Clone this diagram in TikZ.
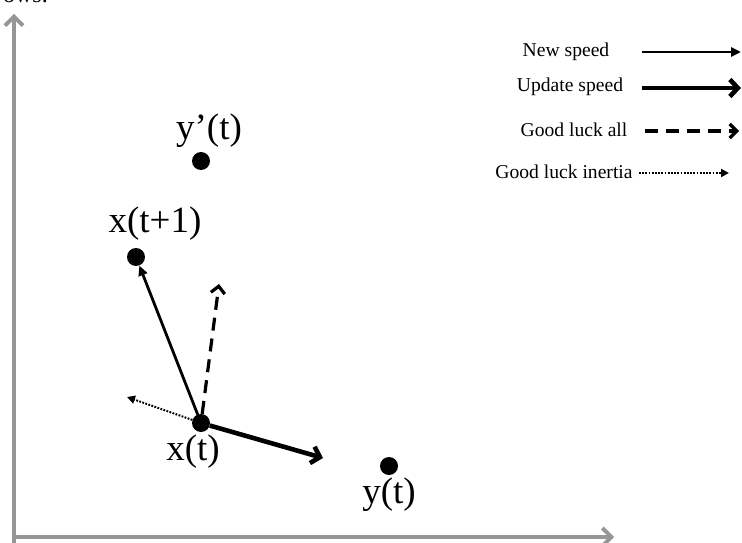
\documentclass[tikz,border=0pt]{standalone}
\usepackage{fontspec}
\setmainfont{Liberation Serif}
\usetikzlibrary{arrows.meta}
\definecolor{axisgray}{RGB}{150,150,150}
\begin{document}
\begin{tikzpicture}[x=1pt,y=-1pt,
  axis/.style={draw=axisgray, line width=3.8pt, -{Straight Barb[length=9pt,width=18pt]}},
  dot/.style={circle, fill=black, minimum size=18pt, inner sep=0pt},
  lbl/.style={font=\fontsize{37}{39}\selectfont, inner sep=0pt},
  leg/.style={font=\fontsize{19.6}{22}\selectfont, inner sep=0pt},
  newspeed/.style={line width=2.8pt, -{Triangle[length=10pt,width=9pt]}},
  updatespeed/.style={line width=4.6pt, -{Straight Barb[length=8pt,width=17pt]}},
  goodall/.style={line width=3.2pt, dash pattern=on 13pt off 8pt, -{Straight Barb[length=7pt,width=14pt]}},
  inertia/.style={line width=2pt, dash pattern=on 1.8pt off 1.4pt, -{Triangle[length=8pt,width=8pt]}}
]
\useasboundingbox (0,0) rectangle (742,543);

% cut-off caption text at top
\node[font=\fontsize{24}{26}\selectfont, inner sep=0pt, anchor=base east] (cap) at (48,3) {ows.};

% axes
\coordinate (ybot) at (14,545);
\coordinate (ytip) at (14,14);
\coordinate (xleft) at (12,537);
\coordinate (xtip) at (614,537);
\draw[axis] (ybot) -- (ytip);
\draw[axis] (xleft) -- (xtip);

% points
\node[dot] (yp) at (201,161) {};
\node[dot] (xt1) at (136,257) {};
\node[dot] (xt) at (201,423) {};
\node[dot] (yt) at (389,466) {};

% labels
\node[lbl] (lyp) at (209,131) {y’(t)};
\node[lbl] (lxt1) at (155,224) {x(t+1)};
\node[lbl] (lxt) at (193,452) {x(t)};
\node[lbl] (lyt) at (389,495) {y(t)};

% vectors
\coordinate (dtip) at (219,284);
\coordinate (itip) at (127,397);
\coordinate (utip) at (323,458);
\draw[newspeed] (xt.center) -- (xt1);
\draw[goodall] (xt) -- (dtip);
\draw[inertia] (xt) -- (itip);
\draw[updatespeed] (xt) -- (utip);

% legend
\node[leg] (t1) at (566,52) {New speed};
\node[leg] (t2) at (570,87) {Update speed};
\node[leg] (t3) at (574,130) {Good luck all};
\node[leg] (t4) at (564,172) {Good luck inertia};
\coordinate (l1a) at (642,52);  \coordinate (l1b) at (741,52);
\coordinate (l2a) at (642,88);  \coordinate (l2b) at (741,88);
\coordinate (l3a) at (645,131); \coordinate (l3b) at (739,131);
\coordinate (l4a) at (639,173); \coordinate (l4b) at (729,173);
\draw[newspeed] (l1a) -- (l1b);
\draw[updatespeed] (l2a) -- (l2b);
\draw[goodall] (l3a) -- (l3b);
\draw[inertia] (l4a) -- (l4b);
\end{tikzpicture}
\end{document}
